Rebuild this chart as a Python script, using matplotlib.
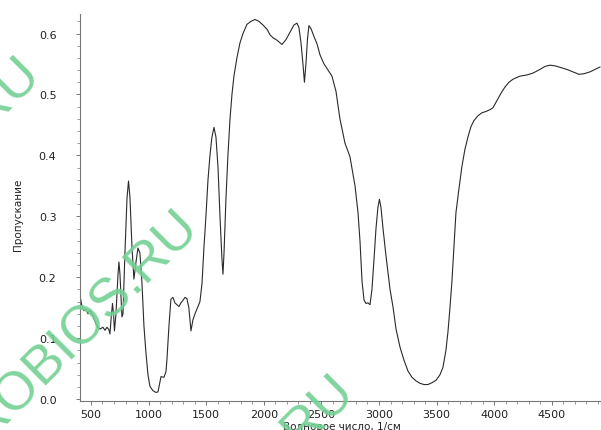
import matplotlib
matplotlib.use("Agg")
import matplotlib.pyplot as plt
from matplotlib.ticker import MultipleLocator

# Wavenumber (1/cm) and transmittance
wavenumber = [405, 422, 439, 457, 474, 491, 517, 552, 578, 604, 622, 639, 656, 665, 674,
              687, 696, 704, 717, 735, 743, 752, 769, 778, 795, 813, 826, 839, 856, 873,
              891, 908, 925, 943, 960, 977, 995, 1012, 1038, 1064, 1082, 1108, 1134, 1151,
              1160, 1177, 1194, 1212, 1229, 1246, 1264, 1281, 1298, 1316, 1333, 1350, 1368,
              1385, 1403, 1429, 1446, 1464, 1481, 1498, 1516, 1533, 1550, 1568, 1585, 1603,
              1620, 1637, 1646, 1655, 1672, 1689, 1707, 1724, 1741, 1767, 1794, 1820, 1854,
              1889, 1924, 1958, 1993, 2028, 2054, 2080, 2115, 2158, 2193, 2227, 2262, 2288,
              2305, 2323, 2340, 2353, 2366, 2379, 2392, 2410, 2436, 2462, 2488, 2523, 2557,
              2592, 2627, 2661, 2705, 2748, 2792, 2818, 2835, 2853, 2870, 2887, 2905, 2922,
              2939, 2957, 2974, 2991, 3004, 3017, 3035, 3061, 3096, 3122, 3148, 3183, 3217,
              3252, 3286, 3321, 3356, 3391, 3425, 3460, 3495, 3529, 3555, 3581, 3599, 3616,
              3633, 3651, 3668, 3694, 3720, 3746, 3772, 3798, 3824, 3859, 3894, 3928, 3963,
              3989, 4024, 4059, 4093, 4128, 4163, 4223, 4284, 4336, 4397, 4441, 4484, 4528,
              4580, 4632, 4684, 4736, 4779, 4831, 4875, 4918]
transmittance = [0.170, 0.152, 0.145, 0.148, 0.140, 0.146, 0.136, 0.120, 0.115, 0.118, 0.113,
                 0.118, 0.114, 0.107, 0.130, 0.157, 0.140, 0.112, 0.140, 0.205, 0.225, 0.205,
                 0.135, 0.140, 0.240, 0.330, 0.358, 0.330, 0.250, 0.197, 0.225, 0.248, 0.240,
                 0.190, 0.120, 0.077, 0.040, 0.021, 0.014, 0.011, 0.012, 0.037, 0.036, 0.045,
                 0.066, 0.120, 0.164, 0.167, 0.158, 0.155, 0.152, 0.158, 0.162, 0.167, 0.165,
                 0.150, 0.112, 0.130, 0.140, 0.152, 0.160, 0.190, 0.250, 0.300, 0.360, 0.400,
                 0.430, 0.446, 0.430, 0.380, 0.300, 0.230, 0.205, 0.240, 0.330, 0.400, 0.460,
                 0.500, 0.530, 0.560, 0.585, 0.600, 0.615, 0.620, 0.623, 0.620, 0.614, 0.607,
                 0.598, 0.593, 0.589, 0.582, 0.590, 0.602, 0.614, 0.617, 0.610, 0.585, 0.550,
                 0.520, 0.550, 0.590, 0.613, 0.608, 0.595, 0.583, 0.565, 0.550, 0.540, 0.530,
                 0.505, 0.460, 0.420, 0.398, 0.350, 0.306, 0.260, 0.193, 0.163, 0.157, 0.158,
                 0.155, 0.180, 0.230, 0.280, 0.315, 0.328, 0.315, 0.280, 0.235, 0.180, 0.151,
                 0.115, 0.085, 0.064, 0.046, 0.036, 0.030, 0.026, 0.024, 0.024, 0.027, 0.031,
                 0.040, 0.052, 0.080, 0.111, 0.150, 0.193, 0.250, 0.306, 0.345, 0.382, 0.410,
                 0.430, 0.447, 0.457, 0.465, 0.470, 0.472, 0.475, 0.478, 0.490, 0.502, 0.512,
                 0.520, 0.525, 0.530, 0.532, 0.535, 0.541, 0.546, 0.548, 0.547, 0.544, 0.541,
                 0.537, 0.533, 0.534, 0.537, 0.541, 0.545]

x_ticks = [500, 1000, 1500, 2000, 2500, 3000, 3500, 4000, 4500]
y_ticks = [0.0, 0.1, 0.2, 0.3, 0.4, 0.5, 0.6]
x_label = "Волновое число, 1/см"
y_label = "Пропускание"

fig = plt.figure(figsize=(6.01, 4.31), dpi=100)
ax = fig.add_axes([80 / 601, (431 - 402) / 431, 1 - 80 / 601, (402 - 15) / 431])

ax.plot(wavenumber, transmittance, color="#2a2a2a", lw=0.8)
ax.set_xlim(405, 4927)
ax.set_ylim(-0.003, 0.632)

for s in ["top", "right"]:
    ax.spines[s].set_visible(False)
for s in ["left", "bottom"]:
    ax.spines[s].set_color("#777777")
    ax.spines[s].set_linewidth(0.8)

ax.set_xticks(x_ticks)
ax.set_xticklabels([str(v) for v in x_ticks])
ax.set_yticks(y_ticks)
ax.set_yticklabels([f"{v:.1f}" for v in y_ticks])
ax.xaxis.set_minor_locator(MultipleLocator(100))
ax.yaxis.set_minor_locator(MultipleLocator(0.02))
ax.tick_params(which="major", length=3, width=0.7, color="#777777", labelsize=8,
               labelcolor="#222222")
ax.tick_params(which="minor", length=2, width=0.6, color="#888888")
ax.tick_params(axis="y", which="major", pad=14)
ax.tick_params(axis="x", which="major", pad=3)

fig.text(18 / 601, 1 - 215 / 431, y_label, rotation=90, ha="center", va="center",
         fontsize=7.5, color="#222222")
fig.text(342 / 601, 1 - 427 / 431, x_label, ha="center", va="center",
         fontsize=7.5, color="#222222")

# watermarks
wm = dict(color="#74d094", alpha=0.9, fontsize=39, rotation=45,
          rotation_mode="anchor", ha="right", va="baseline", zorder=10,
          family="Liberation Sans")
fig.text(42 / 601, 1 - 75 / 431, "ROBIOS.RU", **wm)
fig.text(200 / 601, 1 - 228 / 431, "ROBIOS.RU", **wm)
fig.text(356 / 601, 1 - 393 / 431, "ROBIOS.RU", **wm)

fig.savefig("out.png", dpi=100)
